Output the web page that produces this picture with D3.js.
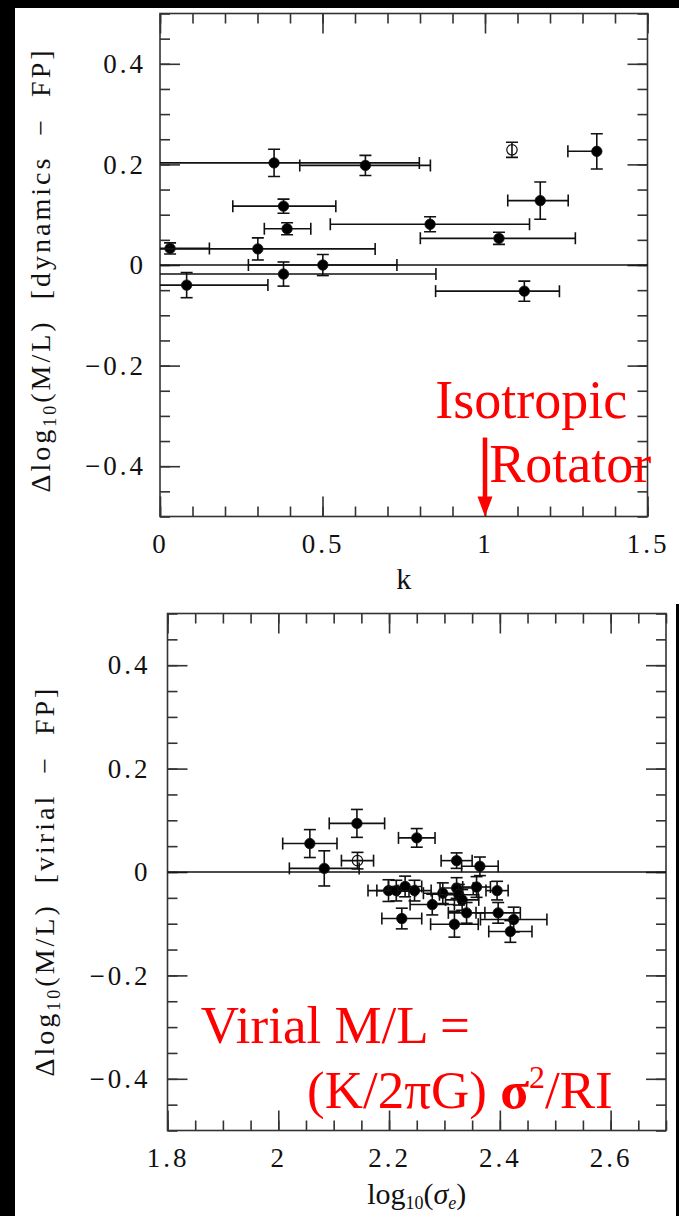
<!DOCTYPE html>
<html>
<head>
<meta charset="utf-8">
<script src="https://cdn.jsdelivr.net/npm/d3@7"></script>
<style>
  html, body { margin: 0; padding: 0; background: #000; }
  svg { display: block; }
  text { font-family: "Liberation Serif", "Times New Roman", serif; }
</style>
</head>
<body>
<svg id="chart" width="679" height="1216"></svg>
<script>
// ---- top panel: k  vs  Δlog10(M/L) [dynamics − FP]
const kVal   = [0.351, 0.632, 1.083, 1.344, 0.380, 0.391, 1.170, 0.831, 1.043, 0.031, 0.301, 0.501, 0.380, 0.082, 1.121];
const kLo    = [-0.10, 0.430, 1.083, 1.255, 0.224, 0.321, 1.070, 0.524, 0.801, -0.09, -0.12, 0.272, -0.05, -0.17, 0.848];
const kHi    = [0.798, 0.832, 1.083, 1.344, 0.541, 0.464, 1.256, 1.137, 1.278, 0.152, 0.662, 0.729, 0.849, 0.332, 1.229];
const dynVal = [0.203, 0.198, 0.229, 0.226, 0.117, 0.072, 0.128, 0.081, 0.053, 0.033, 0.032, 0.000, -0.018, -0.040, -0.052];
const dynErr = [0.027, 0.020, 0.015, 0.035, 0.014, 0.012, 0.037, 0.015, 0.012, 0.011, 0.022, 0.021, 0.024, 0.025, 0.020];
const dynOpen = [0, 0, 1, 0, 0, 0, 0, 0, 0, 0, 0, 0, 0, 0, 0];

// ---- bottom panel: log10(sigma_e)  vs  Δlog10(M/L) [virial − FP]
const sigVal = [2.142, 2.057, 2.083, 2.143, 2.322, 2.364, 2.250, 2.199, 2.213, 2.229, 2.246, 2.278,
                2.297, 2.322, 2.326, 2.332, 2.340, 2.358, 2.395, 2.397, 2.425, 2.318, 2.419, 2.223];
const sigErr = [0.050, 0.049, 0.063, 0.029, 0.028, 0.033, 0.033, 0.037, 0.035, 0.030, 0.030, 0.040,
                0.035, 0.030, 0.035, 0.030, 0.033, 0.025, 0.020, 0.040, 0.060, 0.043, 0.039, 0.036];
const virVal = [0.094, 0.055, 0.007, 0.022, 0.022, 0.011, 0.066, -0.036, -0.036, -0.028, -0.036, -0.063,
                -0.041, -0.031, -0.044, -0.054, -0.079, -0.029, -0.036, -0.079, -0.092, -0.101, -0.115, -0.090];
const virErr = [0.027, 0.027, 0.034, 0.016, 0.015, 0.018, 0.018, 0.021, 0.020, 0.020, 0.020, 0.020,
                0.020, 0.020, 0.020, 0.020, 0.020, 0.020, 0.018, 0.020, 0.024, 0.025, 0.021, 0.020];
const virOpen = [0, 0, 0, 1, 0, 0, 0, 0, 0, 0, 0, 0, 0, 0, 0, 0, 0, 0, 0, 0, 0, 0, 0, 0];

// ---- ticks
const yTickVals   = [-0.4, -0.2, 0, 0.2, 0.4];
const yTickLabels = ["\u22120.4", "\u22120.2", "0", "0.2", "0.4"];
const kTickVals   = [0, 0.5, 1, 1.5];
const kTickLabels = ["0", "0.5", "1", "1.5"];
const sTickVals   = [1.8, 2, 2.2, 2.4, 2.6];
const sTickLabels = ["1.8", "2", "2.2", "2.4", "2.6"];

const svg = d3.select("#chart");

// white paper of the two scanned panels on black
svg.append("rect").attr("x", 15).attr("y", 8).attr("width", 664).attr("height", 596).attr("fill", "#fff");
svg.append("rect").attr("x", 15).attr("y", 602).attr("width", 661).attr("height", 614).attr("fill", "#fff");

function panel(cfg) {
  const g = svg.append("g");
  const x = d3.scaleLinear().domain(cfg.xDomain).range([cfg.left, cfg.right]);
  const y = d3.scaleLinear().domain([-0.5, 0.5]).range([cfg.bottom, cfg.top]);

  // minor + major ticks on all four sides, pointing inward
  const sides = [
    { ax: d3.axisBottom, sc: x, at: `translate(0,${cfg.bottom})`, vals: cfg.xTicks, labels: cfg.xLabels, n: cfg.xMinor, pad: 17 },
    { ax: d3.axisTop,    sc: x, at: `translate(0,${cfg.top})`,    vals: cfg.xTicks, labels: null, n: cfg.xMinor },
    { ax: d3.axisLeft,   sc: y, at: `translate(${cfg.left},0)`,   vals: yTickVals, labels: yTickLabels, n: 20, pad: cfg.yPad },
    { ax: d3.axisRight,  sc: y, at: `translate(${cfg.right},0)`,  vals: yTickVals, labels: null, n: 20 }
  ];
  sides.forEach(s => {
    g.append("g").attr("transform", s.at)
      .call(s.ax(s.sc).tickValues(s.sc.ticks(s.n)).tickSize(-10).tickFormat(""))
      .call(a => a.select(".domain").remove());
    const major = g.append("g").attr("transform", s.at)
      .call(s.ax(s.sc).tickValues(s.vals).tickSize(-20).tickPadding(s.pad || 0)
        .tickFormat((d, i) => s.labels ? s.labels[i] : ""))
      .call(a => a.select(".domain").remove());
    major.attr("font-family", null).attr("font-size", null);
    major.selectAll("text").attr("fill", "#111").style("font-size", "27px").style("letter-spacing", "3px");
  });
  g.selectAll(".tick line").attr("stroke", "#333").attr("stroke-width", 1.6);

  // frame
  g.append("rect")
    .attr("x", cfg.left).attr("y", cfg.top)
    .attr("width", cfg.right - cfg.left).attr("height", cfg.bottom - cfg.top)
    .attr("fill", "none").attr("stroke", "#333").attr("stroke-width", 1.6);

  // zero line
  g.append("line")
    .attr("x1", cfg.left).attr("x2", cfg.right)
    .attr("y1", y(0)).attr("y2", y(0))
    .attr("stroke", "#111").attr("stroke-width", 1.6);

  // data, clipped to the frame
  g.append("clipPath").attr("id", cfg.id)
    .append("rect").attr("x", cfg.left).attr("y", cfg.top)
    .attr("width", cfg.right - cfg.left).attr("height", cfg.bottom - cfg.top);
  const plot = g.append("g").attr("clip-path", `url(#${cfg.id})`);
  const data = cfg.xv.map((v, i) => ({
    x: v, lo: cfg.xlo[i], hi: cfg.xhi[i], y: cfg.yv[i], e: cfg.ye[i], open: cfg.open[i]
  }));
  const cap = 6;
  const pts = plot.selectAll("g.pt").data(data).join("g").attr("class", "pt")
    .attr("stroke", "#111").attr("stroke-width", 1.6);

  // horizontal bars + caps
  pts.filter(d => d.hi > d.lo).append("line")
    .attr("x1", d => x(d.lo)).attr("x2", d => x(d.hi))
    .attr("y1", d => y(d.y)).attr("y2", d => y(d.y));
  pts.filter(d => d.lo < d.x).append("line")
    .attr("x1", d => x(d.lo)).attr("x2", d => x(d.lo))
    .attr("y1", d => y(d.y) - cap).attr("y2", d => y(d.y) + cap);
  pts.filter(d => d.hi > d.x).append("line")
    .attr("x1", d => x(d.hi)).attr("x2", d => x(d.hi))
    .attr("y1", d => y(d.y) - cap).attr("y2", d => y(d.y) + cap);
  // vertical bars + caps
  pts.append("line")
    .attr("x1", d => x(d.x)).attr("x2", d => x(d.x))
    .attr("y1", d => y(d.y - d.e)).attr("y2", d => y(d.y + d.e));
  pts.each(function (d) {
    [d.y - d.e, d.y + d.e].forEach(v => {
      d3.select(this).append("line")
        .attr("x1", x(d.x) - cap).attr("x2", x(d.x) + cap)
        .attr("y1", y(v)).attr("y2", y(v));
    });
  });
  pts.append("circle")
    .attr("cx", d => x(d.x)).attr("cy", d => y(d.y)).attr("r", 5.2)
    .attr("fill", d => d.open ? "none" : "#000")
    .attr("stroke-width", d => d.open ? 1.2 : 0.8);

  // axis titles
  cfg.xTitle(g.append("text")
    .attr("x", (cfg.left + cfg.right) / 2).attr("y", cfg.xTitleY)
    .attr("text-anchor", "middle").attr("fill", "#111").style("font-size", "30px"));
  cfg.yTitle(g.append("text")
    .attr("transform", `translate(${cfg.yTitleX},${(cfg.top + cfg.bottom) / 2 + cfg.yTitleShift}) rotate(-90)`)
    .attr("text-anchor", "middle").attr("fill", "#111")
    .style("font-size", "28px").style("letter-spacing", "3px").style("white-space", "pre"));

  return { g, x, y };
}

function yTitle(rest) {
  return t => {
    t.append("tspan").text("\u0394log");
    t.append("tspan").text("10").style("font-size", "18px").attr("dy", 6);
    t.append("tspan").text("(M/L)  [" + rest + "  \u2212  FP]").attr("dy", -6);
  };
}

// ---- top panel
const topP = panel({
  id: "clipTop", xDomain: [0, 1.5], left: 160, right: 647.5, top: 13.5, bottom: 516.5,
  xTicks: kTickVals, xLabels: kTickLabels, xMinor: 15, yPad: 14,
  xv: kVal, xlo: kLo, xhi: kHi, yv: dynVal, ye: dynErr, open: dynOpen,
  xTitleY: 589, xTitle: t => t.text("k"),
  yTitleX: 50, yTitleShift: 5, yTitle: yTitle("dynamics")
});

// isotropic-rotator marker at k = 1
const arrowK = 1, arrowTopV = -0.343;
const red = "#ff0000";
const ax = topP.x(arrowK), aTop = topP.y(arrowTopV), aTip = topP.y(-0.5);
topP.g.append("line").attr("x1", ax).attr("x2", ax).attr("y1", aTop).attr("y2", aTip - 19)
  .attr("stroke", red).attr("stroke-width", 4.5);
topP.g.append("path")
  .attr("d", `M${ax - 7.5},${aTip - 20}L${ax + 7.5},${aTip - 20}L${ax},${aTip}Z`)
  .attr("fill", red);
topP.g.append("text").attr("x", topP.x(0.847)).attr("y", topP.y(-0.3035))
  .attr("fill", red).style("font-size", "54px").text("Isotropic");
topP.g.append("text").attr("x", topP.x(1.013)).attr("y", topP.y(-0.431))
  .attr("fill", red).style("font-size", "54px").text("Rotator");

// ---- bottom panel
const botP = panel({
  id: "clipBot", xDomain: [1.8, 2.7], left: 167.5, right: 666, top: 613.5, bottom: 1130.5,
  xTicks: sTickVals, xLabels: sTickLabels, xMinor: 18, yPad: 17,
  xv: sigVal, xlo: sigVal.map((v, i) => v - sigErr[i]), xhi: sigVal.map((v, i) => v + sigErr[i]),
  yv: virVal, ye: virErr, open: virOpen,
  xTitleY: 1204, xTitle: t => {
    t.append("tspan").text("log");
    t.append("tspan").text("10").style("font-size", "18px").attr("dy", 5);
    t.append("tspan").text("(").attr("dy", -5);
    t.append("tspan").text("\u03c3").style("font-style", "italic");
    t.append("tspan").text("e").style("font-size", "18px").style("font-style", "italic").attr("dy", 5);
    t.append("tspan").text(")").attr("dy", -5);
  },
  yTitleX: 54, yTitleShift: 9, yTitle: yTitle("virial")
});

botP.g.append("text").attr("x", botP.x(1.860)).attr("y", botP.y(-0.330))
  .attr("fill", red).style("font-size", "53px").text("Virial M/L =");
const l2 = botP.g.append("text").attr("x", botP.x(2.052)).attr("y", botP.y(-0.456))
  .attr("fill", red).style("font-size", "53px").style("white-space", "pre");
l2.append("tspan").text("(K/2\u03c0G) ");
l2.append("tspan").text("\u03c3").style("font-weight", "bold");
l2.append("tspan").text("2").style("font-size", "32px").attr("dy", -20);
l2.append("tspan").text("/RI").attr("dy", 20);
</script>
</body>
</html>
